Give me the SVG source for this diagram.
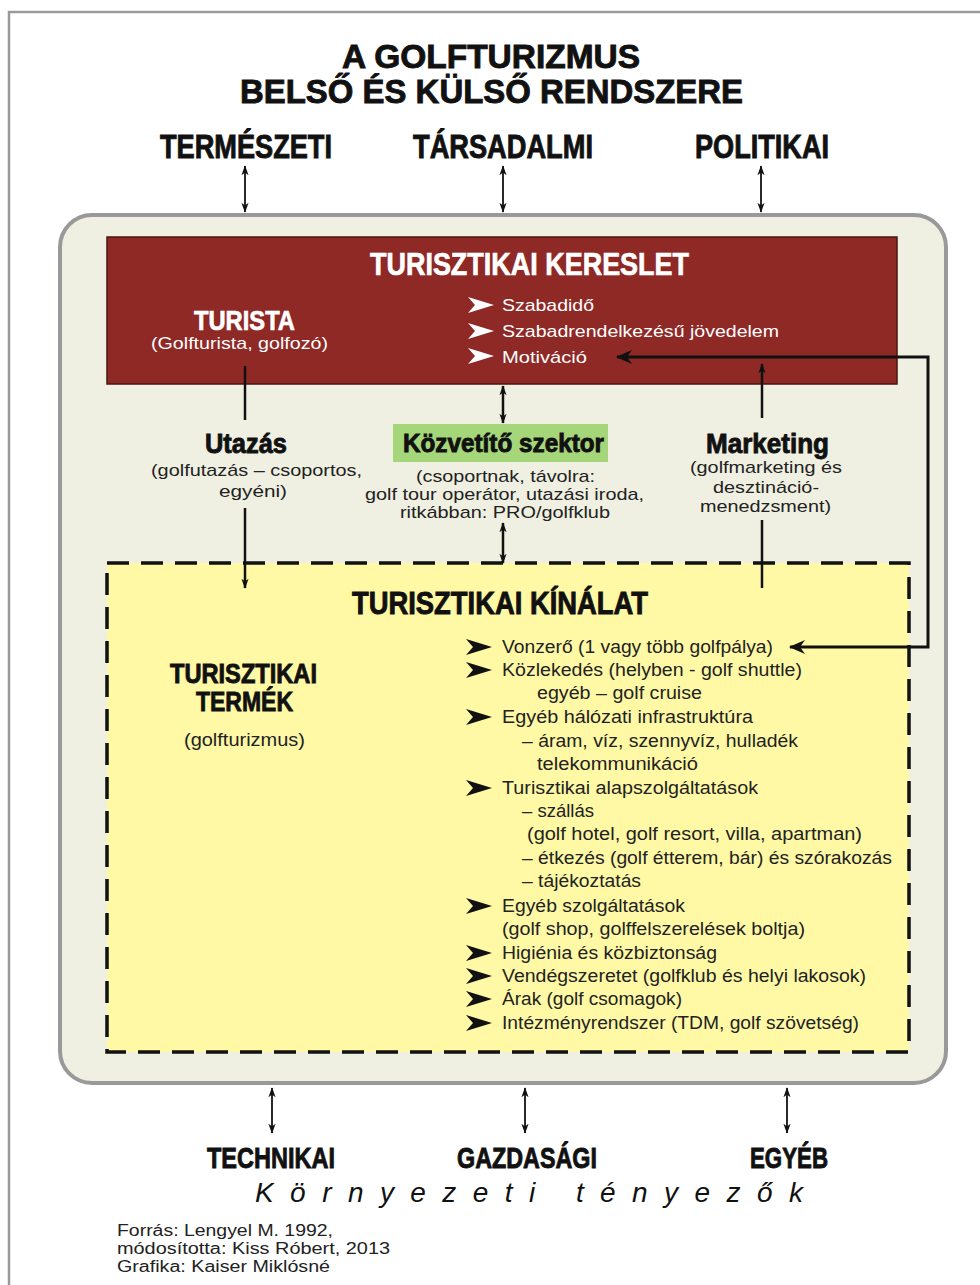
<svg xmlns="http://www.w3.org/2000/svg" width="980" height="1285" viewBox="0 0 980 1285">
<defs>
<style>
.hd{font-family:"Liberation Sans Narrow","Liberation Sans",Arial,sans-serif;font-weight:bold;fill:#111;stroke:#111;stroke-width:0.9;}
.hw{font-family:"Liberation Sans Narrow","Liberation Sans",Arial,sans-serif;font-weight:bold;fill:#fff;stroke:#fff;stroke-width:0.7;}
.nw{font-family:"Liberation Sans Narrow","Liberation Sans",Arial,sans-serif;fill:#fff;font-size:17px;}
.nd{font-family:"Liberation Sans Narrow","Liberation Sans",Arial,sans-serif;fill:#222;font-size:17px;}
.li{font-family:"Liberation Sans",Arial,sans-serif;fill:#222;font-size:17.5px;}
.ln{stroke:#111;stroke-width:2.5;fill:none;}
.lnt{stroke:#111;stroke-width:1.8;fill:none;}
</style>
<marker id="ah" markerUnits="userSpaceOnUse" markerWidth="16" markerHeight="14" refX="15" refY="7" orient="auto-start-reverse" viewBox="0 0 16 14">
<path d="M0,0 L16,7 L0,14 L5,7 Z" fill="#111"/>
</marker>
<marker id="as" markerUnits="userSpaceOnUse" markerWidth="10" markerHeight="14" refX="13" refY="5" orient="auto-start-reverse" viewBox="0 0 14 10">
<path d="M0,0 L14,5 L0,10 L4,5 Z" fill="#111"/>
</marker>
<path id="chev" d="M0,-8 L26,0 L0,8 L7,0 Z"/>
</defs>
<rect x="0" y="0" width="980" height="1285" fill="#fff"/>
<path d="M9,1285 V12 H980" fill="none" stroke="#9a9a9a" stroke-width="2.5"/>

<g id="title">
<text class="hd" x="342" y="68" font-size="34" textLength="298" lengthAdjust="spacingAndGlyphs">A GOLFTURIZMUS</text>
<text class="hd" x="240" y="103" font-size="34" textLength="503" lengthAdjust="spacingAndGlyphs">BELSŐ ÉS KÜLSŐ RENDSZERE</text>
</g>

<g id="f-termeszeti"><text class="hd" x="160" y="158" font-size="33" textLength="172" lengthAdjust="spacingAndGlyphs">TERMÉSZETI</text></g>
<g id="f-tarsadalmi"><text class="hd" x="413" y="158" font-size="33" textLength="180" lengthAdjust="spacingAndGlyphs">TÁRSADALMI</text></g>
<g id="f-politikai"><text class="hd" x="695" y="158" font-size="33" textLength="134" lengthAdjust="spacingAndGlyphs">POLITIKAI</text></g>

<g id="system">
<rect x="60" y="215" width="886" height="868" rx="32" ry="32" fill="#eff0e1" stroke="#999" stroke-width="4"/>
</g>

<g id="kereslet">
<rect x="107" y="237" width="790" height="147" fill="#8e2926" stroke="#4a1412" stroke-width="1.5"/>
<text class="hw" x="370" y="275" font-size="32" textLength="319" lengthAdjust="spacingAndGlyphs">TURISZTIKAI KERESLET</text>
<text class="hw" x="194" y="330" font-size="28" textLength="101" lengthAdjust="spacingAndGlyphs">TURISTA</text>
<text class="nw" x="151" y="349" textLength="177" lengthAdjust="spacingAndGlyphs">(Golfturista, golfozó)</text>
<use href="#chev" x="468" y="305" fill="#fff"/>
<use href="#chev" x="468" y="331" fill="#fff"/>
<use href="#chev" x="468" y="356" fill="#fff"/>
<text class="nw" x="502" y="311" textLength="92" lengthAdjust="spacingAndGlyphs">Szabadidő</text>
<text class="nw" x="502" y="337" textLength="277" lengthAdjust="spacingAndGlyphs">Szabadrendelkezésű jövedelem</text>
<text class="nw" x="502" y="363" textLength="85" lengthAdjust="spacingAndGlyphs">Motiváció</text>
</g>

<g id="utazas">
<text class="hd" x="205" y="453" font-size="28" textLength="82" lengthAdjust="spacingAndGlyphs">Utazás</text>
<text class="nd" x="151" y="476" textLength="211" lengthAdjust="spacingAndGlyphs">(golfutazás – csoportos,</text>
<text class="nd" x="219" y="497" textLength="68" lengthAdjust="spacingAndGlyphs">egyéni)</text>
</g>

<g id="kozvetito">
<rect x="393" y="424" width="215" height="38" fill="#a6d67a"/>
<text class="hd" x="403" y="452" font-size="26" textLength="201" lengthAdjust="spacingAndGlyphs">Közvetítő szektor</text>
<text class="nd" x="416" y="482" textLength="179" lengthAdjust="spacingAndGlyphs">(csoportnak, távolra:</text>
<text class="nd" x="365" y="500" textLength="279" lengthAdjust="spacingAndGlyphs">golf tour operátor, utazási iroda,</text>
<text class="nd" x="400" y="518" textLength="210" lengthAdjust="spacingAndGlyphs">ritkábban: PRO/golfklub</text>
</g>

<g id="marketing">
<text class="hd" x="706" y="453" font-size="28" textLength="123" lengthAdjust="spacingAndGlyphs">Marketing</text>
<text class="nd" x="690" y="473" textLength="152" lengthAdjust="spacingAndGlyphs">(golfmarketing és</text>
<text class="nd" x="713" y="493" textLength="106" lengthAdjust="spacingAndGlyphs">desztináció-</text>
<text class="nd" x="700" y="512" textLength="131" lengthAdjust="spacingAndGlyphs">menedzsment)</text>
</g>

<g id="kinalat">
<rect x="107" y="563" width="802" height="489" fill="#fff9a5" stroke="#111" stroke-width="3.5" stroke-dasharray="22,12"/>
<text class="hd" x="352" y="614" font-size="32" textLength="296" lengthAdjust="spacingAndGlyphs">TURISZTIKAI KÍNÁLAT</text>
</g>

<g id="termek">
<text class="hd" x="170" y="683" font-size="28" textLength="147" lengthAdjust="spacingAndGlyphs">TURISZTIKAI</text>
<text class="hd" x="196" y="711" font-size="28" textLength="97" lengthAdjust="spacingAndGlyphs">TERMÉK</text>
<text class="li" x="184" y="746" textLength="121" lengthAdjust="spacingAndGlyphs">(golfturizmus)</text>
</g>

<g id="kinalat-list">
<g fill="#111">
<use href="#chev" x="466" y="647"/>
<use href="#chev" x="466" y="670"/>
<use href="#chev" x="466" y="717"/>
<use href="#chev" x="466" y="788"/>
<use href="#chev" x="466" y="906"/>
<use href="#chev" x="466" y="953"/>
<use href="#chev" x="466" y="976"/>
<use href="#chev" x="466" y="999"/>
<use href="#chev" x="466" y="1023"/>
</g>
<text class="li" x="502" y="653" textLength="271" lengthAdjust="spacingAndGlyphs">Vonzerő (1 vagy több golfpálya)</text>
<text class="li" x="502" y="676" textLength="300" lengthAdjust="spacingAndGlyphs">Közlekedés (helyben - golf shuttle)</text>
<text class="li" x="537" y="699" textLength="165" lengthAdjust="spacingAndGlyphs">egyéb – golf cruise</text>
<text class="li" x="502" y="723" textLength="251" lengthAdjust="spacingAndGlyphs">Egyéb hálózati infrastruktúra</text>
<text class="li" x="522" y="747" textLength="276" lengthAdjust="spacingAndGlyphs">– áram, víz, szennyvíz, hulladék</text>
<text class="li" x="537" y="770" textLength="161" lengthAdjust="spacingAndGlyphs">telekommunikáció</text>
<text class="li" x="502" y="794" textLength="256" lengthAdjust="spacingAndGlyphs">Turisztikai alapszolgáltatások</text>
<text class="li" x="522" y="817" textLength="72" lengthAdjust="spacingAndGlyphs">– szállás</text>
<text class="li" x="527" y="840" textLength="335" lengthAdjust="spacingAndGlyphs">(golf hotel, golf resort, villa, apartman)</text>
<text class="li" x="522" y="864" textLength="370" lengthAdjust="spacingAndGlyphs">– étkezés (golf étterem, bár) és szórakozás</text>
<text class="li" x="522" y="887" textLength="119" lengthAdjust="spacingAndGlyphs">– tájékoztatás</text>
<text class="li" x="502" y="912" textLength="183" lengthAdjust="spacingAndGlyphs">Egyéb szolgáltatások</text>
<text class="li" x="502" y="935" textLength="303" lengthAdjust="spacingAndGlyphs">(golf shop, golffelszerelések boltja)</text>
<text class="li" x="502" y="959" textLength="215" lengthAdjust="spacingAndGlyphs">Higiénia és közbiztonság</text>
<text class="li" x="502" y="982" textLength="364" lengthAdjust="spacingAndGlyphs">Vendégszeretet (golfklub és helyi lakosok)</text>
<text class="li" x="502" y="1005" textLength="180" lengthAdjust="spacingAndGlyphs">Árak (golf csomagok)</text>
<text class="li" x="502" y="1029" textLength="357" lengthAdjust="spacingAndGlyphs">Intézményrendszer (TDM, golf szövetség)</text>
</g>

<g id="f-technikai"><text class="hd" x="207" y="1168" font-size="30" textLength="128" lengthAdjust="spacingAndGlyphs">TECHNIKAI</text></g>
<g id="f-gazdasagi"><text class="hd" x="457" y="1168" font-size="30" textLength="140" lengthAdjust="spacingAndGlyphs">GAZDASÁGI</text></g>
<g id="f-egyeb"><text class="hd" x="750" y="1168" font-size="30" textLength="78" lengthAdjust="spacingAndGlyphs">EGYÉB</text></g>

<g id="kornyezeti">
<text x="255" y="1202" font-family="'Liberation Sans Narrow','Liberation Sans',Arial,sans-serif" font-style="italic" font-size="28" fill="#111" textLength="548" lengthAdjust="spacing">Környezeti tényezők</text>
</g>

<g id="source" font-family="'Liberation Sans',Arial,sans-serif" fill="#222">
<text x="117" y="1236" font-size="16" textLength="216" lengthAdjust="spacingAndGlyphs">Forrás: Lengyel M. 1992,</text>
<text x="117" y="1254" font-size="16" textLength="273" lengthAdjust="spacingAndGlyphs">módosította: Kiss Róbert, 2013</text>
<text x="117" y="1272" font-size="16" textLength="213" lengthAdjust="spacingAndGlyphs">Grafika: Kaiser Miklósné</text>
</g>

<g id="connectors">
<line class="lnt" x1="245" y1="166" x2="245" y2="212" marker-start="url(#as)" marker-end="url(#as)"/>
<line class="lnt" x1="503" y1="166" x2="503" y2="212" marker-start="url(#as)" marker-end="url(#as)"/>
<line class="lnt" x1="761" y1="166" x2="761" y2="212" marker-start="url(#as)" marker-end="url(#as)"/>
<line class="ln" x1="245" y1="366" x2="245" y2="420"/>
<line class="ln" x1="245" y1="508" x2="245" y2="588" marker-end="url(#as)"/>
<line class="ln" x1="503" y1="386" x2="503" y2="423" marker-start="url(#as)" marker-end="url(#as)"/>
<line class="ln" x1="503" y1="523" x2="503" y2="563" marker-start="url(#as)" marker-end="url(#as)"/>
<line class="ln" x1="762" y1="418" x2="762" y2="364" marker-end="url(#as)"/>
<line class="ln" x1="762" y1="520" x2="762" y2="588"/>
<path d="M617,357 H928 V647 H790" stroke="#111" stroke-width="3" fill="none" marker-start="url(#ah)" marker-end="url(#ah)"/>
<line class="lnt" x1="272" y1="1088" x2="272" y2="1133" marker-start="url(#as)" marker-end="url(#as)"/>
<line class="lnt" x1="525" y1="1088" x2="525" y2="1133" marker-start="url(#as)" marker-end="url(#as)"/>
<line class="lnt" x1="787" y1="1088" x2="787" y2="1133" marker-start="url(#as)" marker-end="url(#as)"/>
</g>
</svg>
